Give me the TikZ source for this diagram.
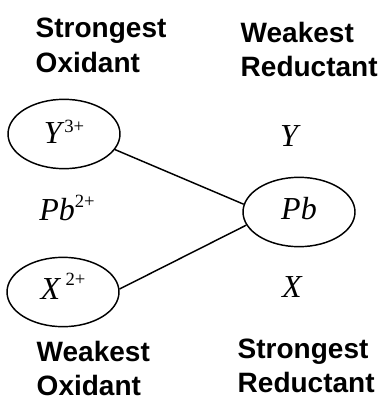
\documentclass[tikz,border=0pt]{standalone}
\usepackage{fontspec}
\setmainfont{Liberation Serif}
\setsansfont{Liberation Sans}
\usetikzlibrary{shapes.geometric}

\newcommand{\ionchg}[2]{\raisebox{#1}{\upshape\fontsize{14}{14}\selectfont #2}}

\begin{document}
\begin{tikzpicture}[
		x=0.75pt, y=-0.75pt,
		line width=1.1pt,
		heading/.style={
			font=\sffamily\bfseries\fontsize{21}{26}\selectfont,
			align=left,
			inner sep=0pt,
			anchor=north west
		},
		species/.style={
			font=\itshape\fontsize{24}{26}\selectfont,
			inner sep=0pt
		},
		couple/.style={
			species,
			ellipse,
			draw=black,
			minimum width=84pt,
			minimum height=52pt
		}
		]
		\useasboundingbox (0,0) rectangle (388,399);
		
		% column headings
		\node [heading] (strongox) at (35,17.3) {Strongest\\Oxidant};
		\node [heading] (weakred) at (240,21) {Weakest\\Reductant};
		\node [heading] (weakox) at (36,340) {Weakest\\Oxidant};
		\node [heading] (strongred) at (237,338) {Strongest\\Reductant};
		
		% the half-cell couples
		\node [couple, text depth=3pt] (yion) at (64,134) {Y\/\ionchg{8.5pt}{3+}};
		\node [couple, text depth=6pt] (pbmetal) at (299,212) {Pb};
		\node [couple, text depth=9pt] (xion) at (63,292) {X\,\ionchg{10.5pt}{2+}};
		
		\node [species] (ymetal) at (289,136) {Y};
		\node [species] (pbion) at (67,208) {Pb\/\ionchg{9.5pt}{2+}};
		\node [species] (xmetal) at (292,287) {X};
		
		\draw (yion.-17) -- (pbmetal.172);
		\draw (pbmetal.194) -- (xion.3);
		
\end{tikzpicture}
\end{document}
